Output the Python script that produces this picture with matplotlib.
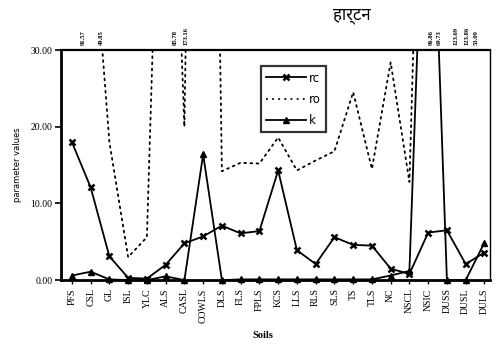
import numpy as np
from matplotlib import pyplot as plt
from matplotlib import transforms

soils = ['PFS', 'CSL', 'GL', 'ISL', 'YLC', 'ALS', 'CASL', 'COWLS', 'DLS', 'FLS', 'FPLS',
         'KCS', 'LLS', 'RLS', 'SLS', 'TS', 'TLS', 'NC', 'NSCL', 'NSIC', 'DUSS', 'DUSL', 'DULS']
rc = [18.0, 12.1, 3.1, 0.3, 0.2, 2.0, 4.8, 5.7, 7.1, 6.1, 6.4, 14.3,
      3.9, 2.1, 5.6, 4.6, 4.5, 1.5, 0.8, 6.2, 6.5, 2.1, 3.6]
ro = [91.57, 49.85, 18.0, 3.0, 5.6, 85.78, 20.0, 173.16, 14.2, 15.3, 15.2, 18.6,
      14.3, 15.6, 16.8, 24.5, 14.5, 28.4, 12.8, 96.86, 123.69, 123.86, 53.09]
k = [0.6, 1.1, 0.1, 0.0, 0.0, 0.5, 0.0, 16.4, 0.0, 0.1, 0.1, 0.1,
     0.1, 0.1, 0.1, 0.1, 0.1, 0.6, 1.2, 69.73, 0.0, 0.0, 4.9]

# off-scale values written above the frame: (text, x position in category units)
top_labels = [('91.57', 0.6), ('49.85', 1.55), ('85.78', 5.5), ('173.16', 6.1),
              ('96.86', 19.15), ('69.73', 19.57), ('123.69', 20.5), ('123.86', 21.05),
              ('53.09', 21.55)]

YMAX = 30

serif = ['Liberation Serif', 'DejaVu Serif']
plt.rcParams['font.family'] = serif

fig = plt.figure(figsize=(4.96, 3.45), dpi=100)
ax = fig.add_axes([0.123, 0.188, 0.865, 0.667])

x = np.arange(len(soils))

ax.plot(x, rc, color='black', lw=1.3)
ax.plot(x, ro, color='black', lw=1.3, ls=(0, (1, 2.4)), dash_capstyle='round')
ax.plot(x, k, color='black', lw=1.3)

# markers for in-range points, drawn unclipped so they sit on the axis line
rc_a = np.array(rc)
k_a = np.array(k)
m = rc_a <= YMAX
ax.plot(x[m], rc_a[m], ls='none', marker='x', ms=5, mew=1.8, color='black', clip_on=False)
m = k_a <= YMAX
ax.plot(x[m], k_a[m], ls='none', marker='^', ms=5, color='black', clip_on=False)

# legend proxies
h1, = ax.plot([], [], color='black', lw=1.3, marker='x', ms=5, mew=1.8)
h2, = ax.plot([], [], color='black', lw=1.3, ls=(0, (1, 2.4)))
h3, = ax.plot([], [], color='black', lw=1.3, marker='^', ms=5)
leg = ax.legend([h1, h2, h3], ['rc', 'ro', 'k'], loc='upper left',
                bbox_to_anchor=(0.452, 0.955), frameon=True, fancybox=False,
                edgecolor='black', handlelength=3.4, handletextpad=0.2,
                borderpad=0.45, labelspacing=0.7, prop={'family': 'DejaVu Sans', 'size': 8.5})
leg.get_frame().set_linewidth(1.6)

ax.set_xlim(-0.58, 22.3)
ax.set_ylim(0, YMAX)
ax.set_yticks([0, 10, 20, 30])
ax.set_yticklabels(['%.2f' % v for v in [0, 10, 20, 30]], fontsize=7)
ax.set_xticks(x)
ax.set_xticklabels(soils, rotation=90, fontsize=7)
ax.tick_params(axis='y', direction='out', length=4, width=1.2, pad=2)
ax.tick_params(axis='x', direction='out', length=3, width=1.0, pad=3)

for side, w in [('left', 2.0), ('bottom', 2.0), ('top', 1.6), ('right', 1.0)]:
    ax.spines[side].set_linewidth(w)

ax.set_ylabel('parameter values', fontsize=6, family='DejaVu Sans')
ax.yaxis.set_label_coords(-0.09, 0.5)
ax.set_xlabel('Soils', fontsize=7.5, fontweight='bold')
ax.xaxis.set_label_coords(0.47, -0.22)

trans = transforms.blended_transform_factory(ax.transData, ax.transAxes)
for txt, xp in top_labels:
    ax.text(xp, 1.02, txt, transform=trans, rotation=90, ha='center', va='bottom',
            fontsize=4.8, fontweight='bold')

fig.text(0.71, 0.955, 'हार्टन', ha='center', va='center', fontsize=12,
         family=['Noto Sans Devanagari', 'Lohit Devanagari', 'FreeSans', 'Noto Sans', 'DejaVu Sans'])

fig.savefig('out.png', dpi=100)
